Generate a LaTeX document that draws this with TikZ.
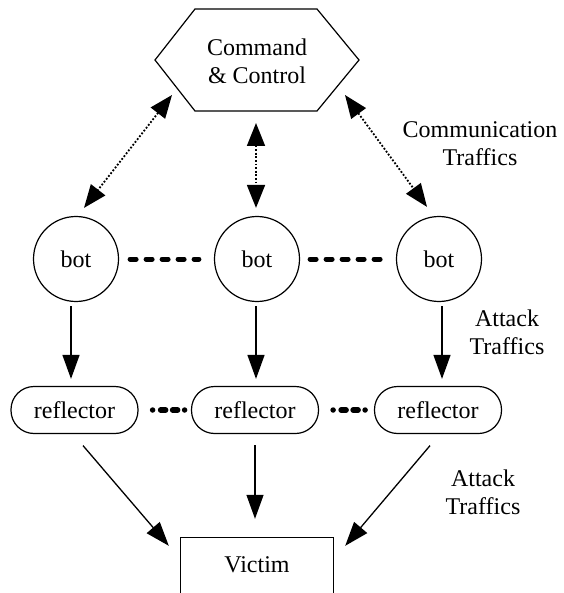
\documentclass[tikz,border=0pt]{standalone}
\usepackage{fontspec}
\setmainfont{Liberation Serif}
\usetikzlibrary{arrows.meta}
\begin{document}
\begin{tikzpicture}[x=1pt,y=-1pt,
  every node/.style={font=\fontsize{24}{28}\selectfont, inner sep=0pt},
  shapeline/.style={line width=1.2pt},
  botnode/.style={circle, draw, shapeline, minimum size=85pt},
  reflnode/.style={draw, shapeline, rounded corners=23pt, minimum width=127pt, minimum height=47pt},
  lbl/.style={align=center},
  arr/.style={line width=1.3pt, -{Triangle[length=24pt,width=17pt]}},
  darr/.style={line width=1.8pt, dash pattern=on 1.8pt off 1.8pt,
    {Triangle[length=23pt,width=18pt]}-{Triangle[length=23pt,width=18pt]}},
  botdash/.style={line width=5pt, line cap=round, dash pattern=on 6pt off 10pt},
  refdots/.style={line width=5.5pt, line cap=round,
    dash pattern=on 0pt off 8pt on 5pt off 7pt on 5pt off 7pt on 0pt off 0pt}
]
\useasboundingbox (0,0) rectangle (563,593);

% Command & Control hexagon
\draw[shapeline] (155,60) -- (195,9) -- (317,9) -- (359,60) -- (317,111) -- (195,111) -- cycle;
\node[lbl] (cc) at (257,61) {Command\\\& Control};
\coordinate (hexL) at (172,95);
\coordinate (hexM) at (256,123);
\coordinate (hexR) at (345,95);

% bots
\node[botnode] (b1) at (76,259) {bot};
\node[botnode] (b2) at (257,259) {bot};
\node[botnode] (b3) at (439,259) {bot};

% reflectors
\node[reflnode] (r1) at (74.5,410) {reflector};
\node[reflnode] (r2) at (255,410) {reflector};
\node[reflnode] (r3) at (438,410) {reflector};

% victim (open at the bottom)
\node[minimum width=152pt, minimum height=54pt] (v) at (257,565) {Victim};
\draw[shapeline] ([yshift=-12pt]v.south west) -- (v.north west) -- (v.north east) -- ([yshift=-12pt]v.south east);

% labels
\node[lbl] (l1) at (480,144) {Communication\\Traffics};
\node[lbl] (l2) at (507,332) {Attack\\Traffics};
\node[lbl] (l3) at (483,492) {Attack\\Traffics};

% communication traffics (dotted, two-headed)
\draw[darr] (hexL) -- ([shift={(8,-8)}]b1.north);
\draw[darr] (hexM) -- ([shift={(-1,-8)}]b2.north);
\draw[darr] (hexR) -- ([shift={(-12,-9)}]b3.north);

% links between bots
\draw[botdash, shorten <=11pt, shorten >=15pt] (b1.east) -- (b2.west);
\draw[botdash, shorten <=10pt, shorten >=15pt] (b2.east) -- (b3.west);

% links between reflectors
\draw[refdots, shorten <=14pt, shorten >=3pt] (r1.east) -- (r2.west);
\draw[refdots, shorten <=14pt, shorten >=3pt] (r2.east) -- (r3.west);

% bots to reflectors
\draw[arr, shorten <=4pt, shorten >=7pt] ([xshift=-5pt]b1.south) -- ([xshift=-5pt]b1.south |- r1.north);
\draw[arr, shorten <=4pt, shorten >=7pt] ([xshift=-1pt]b2.south) -- ([xshift=-1pt]b2.south |- r2.north);
\draw[arr, shorten <=4pt, shorten >=7pt] ([xshift=3pt]b3.south) -- ([xshift=3pt]b3.south |- r3.north);

% reflectors to victim
\draw[arr] ([shift={(8.5,11.5)}]r1.south) -- ([shift={(-12,8)}]v.north west);
\draw[arr, shorten <=11pt, shorten >=19pt] (r2.south) -- (r2.south |- v.north);
\draw[arr] ([shift={(-8,11.5)}]r3.south) -- ([shift={(12,8)}]v.north east);
\end{tikzpicture}
\end{document}
